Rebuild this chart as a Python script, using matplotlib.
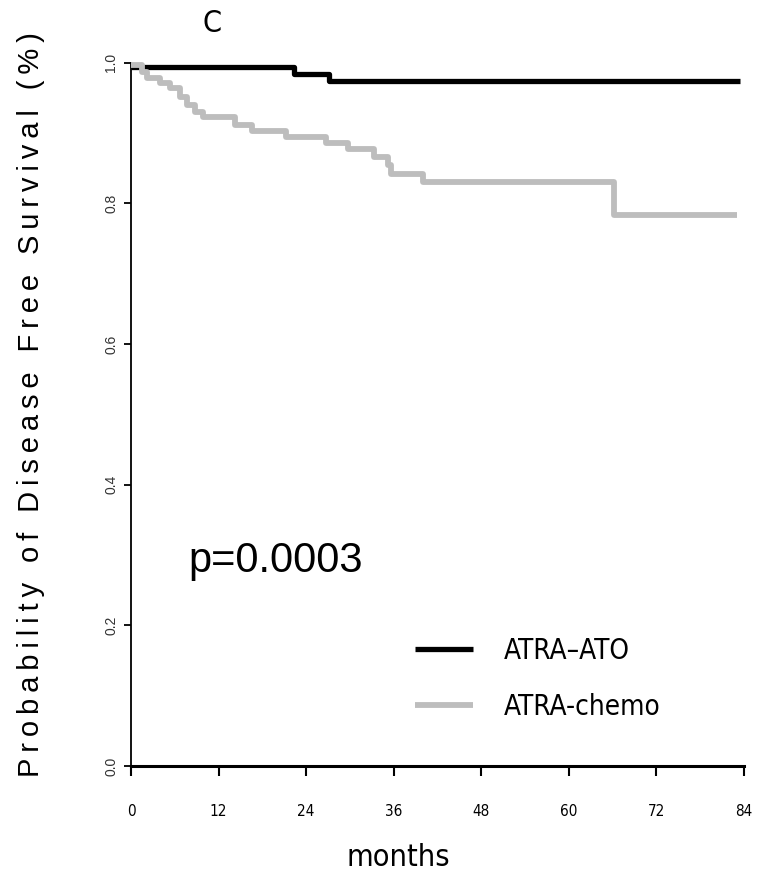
"""Kaplan-Meier style disease free survival curve, panel C (ATRA-ATO vs ATRA-chemo)."""

import matplotlib
matplotlib.use('Agg')
import matplotlib.pyplot as plt
from matplotlib import font_manager

# step times (months) and survival level after each step
ato_months = [0, 22.3, 27.2, 83.5]
ato_surv = [0.993, 0.983, 0.974, 0.974]

chemo_months = [0, 1.5, 2.2, 4.0, 5.4, 6.7, 7.7, 8.8, 9.8, 14.3, 16.6, 21.2,
                26.7, 29.8, 33.3, 35.2, 35.6, 40.0, 66.2, 83.1]
chemo_surv = [0.997, 0.987, 0.978, 0.971, 0.964, 0.951, 0.940, 0.930, 0.923,
              0.911, 0.903, 0.894, 0.886, 0.877, 0.865, 0.854, 0.841, 0.830,
              0.783, 0.783]

x_ticks = [0, 12, 24, 36, 48, 60, 72, 84]
y_ticks = [0.0, 0.2, 0.4, 0.6, 0.8, 1.0]
y_tick_labels = ['0.0', '0.2', '0.4', '0.6', '0.8', '1.0']

ylabel = 'Probability of Disease Free Survival (%)'

# a narrow face if one is around, else condensed DejaVu
names = {f.name for f in font_manager.fontManager.ttflist}
NARROW = [n for n in ['Liberation Sans Narrow', 'DejaVu Sans'] if n in names]
SANS = ['Liberation Sans', 'DejaVu Sans']

W, H = 758, 877
fig = plt.figure(figsize=(W / 100, H / 100), dpi=100)
ax = fig.add_axes([131 / W, 1 - 766 / H, 613 / W, 703.5 / H])

ax.step(ato_months, ato_surv, where='post', color='black', lw=3.8,
        label='ATRA\u2013ATO', clip_on=False, solid_capstyle='butt', zorder=3)
ax.step(chemo_months, chemo_surv, where='post', color='#bdbdbd', lw=4.2,
        label='ATRA-chemo', clip_on=False, solid_capstyle='butt', zorder=4)

ax.set_xlim(0, 84)
ax.set_ylim(0, 1.0)
for s in ['top', 'right']:
    ax.spines[s].set_visible(False)
ax.spines['bottom'].set_linewidth(2.2)
ax.spines['left'].set_linewidth(1.3)

ax.set_xticks(x_ticks)
ax.set_xticklabels([str(t) for t in x_ticks], fontfamily=NARROW,
                   fontstretch='condensed', fontsize=11)
ax.set_yticks(y_ticks)
ax.set_yticklabels(y_tick_labels, fontfamily=SANS, fontsize=10, rotation=90,
                   va='center', color='#333333')
ax.tick_params(axis='x', length=7, width=1.5, pad=20)
ax.tick_params(axis='y', length=5, width=1.3, pad=4)

ax.text(0.093, 0.276, 'p=0.0003', transform=ax.transAxes, fontsize=30,
        fontfamily=SANS, va='baseline')

ax.legend(loc='center left', bbox_to_anchor=(0.463, 0.124), frameon=False,
          prop={'family': NARROW, 'size': 20, 'stretch': 'condensed'},
          handlelength=2.1, handletextpad=1.1, labelspacing=1.0,
          borderpad=0, borderaxespad=0)

fig.text(212 / W, 1 - 24 / H, 'C', fontfamily=NARROW, fontstretch='condensed',
         fontsize=22, ha='center', va='center')
fig.text(398 / W, 1 - 857 / H, 'months', fontfamily=NARROW,
         fontstretch='condensed', fontsize=22, ha='center', va='center')
# thin spaces between letters to spread the label along the axis
fig.text(31 / W, 1 - 405 / H, '\u2009'.join(ylabel), fontfamily=SANS,
         fontsize=21, rotation=90, ha='center', va='center')

fig.savefig('out.png', dpi=100)
